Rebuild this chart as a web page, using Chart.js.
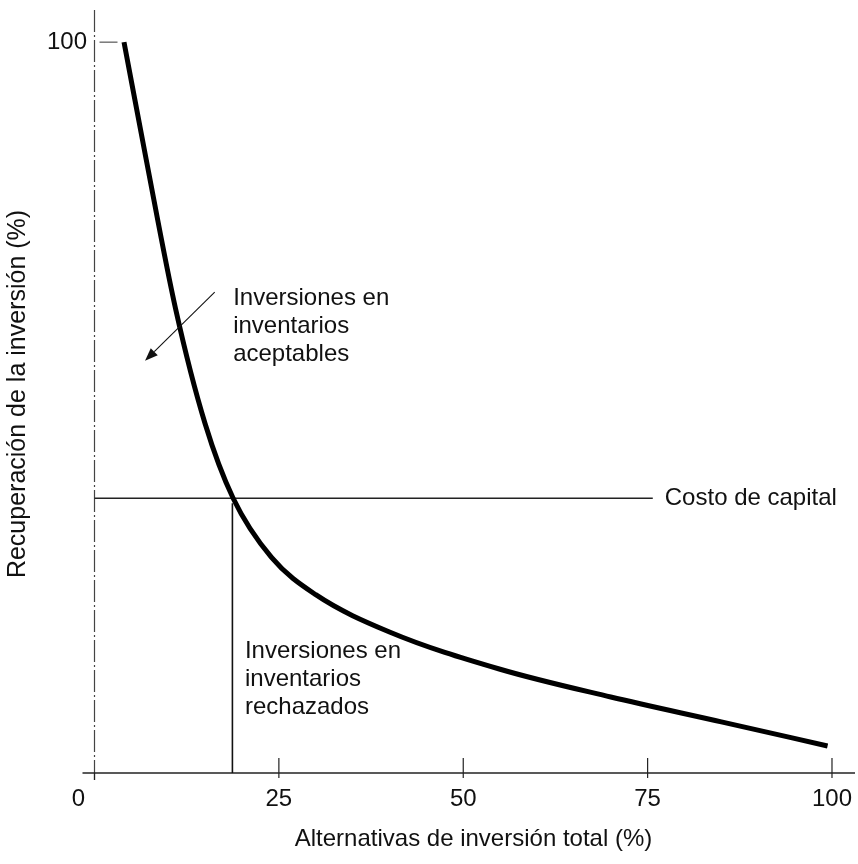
<!DOCTYPE html>
<html><head><meta charset="utf-8">
<style>html,body{margin:0;padding:0;background:#fff;}#wrap{width:858px;height:864px;}</style>
<script src="https://cdn.jsdelivr.net/npm/chart.js@4.4.1/dist/chart.umd.min.js"></script>
</head><body><div id="wrap"><canvas id="c" width="858" height="864"></canvas></div>
<script>
// ---- data ----
const curveX = [4.0, 7.0, 11.0, 15.0, 18.8, 24.0, 30.0, 40.0, 55.0, 70.0, 85.0, 99.4];
const curveY = [100, 84.0, 63.5, 47.8, 37.6, 29.5, 24.4, 19.3, 14.2, 10.4, 7.0, 3.7];
const costOfCapital = 37.6;
const cutoffX = 18.7;
const costLineEndX = 75.7;
const xTicks = [0, 25, 50, 75, 100];
const yTicks = [0, 100];
const xTitle = 'Alternativas de inversión total (%)';
const yTitle = 'Recuperación de la inversión (%)';
const costLabel = 'Costo de capital';
const acceptLabel = ['Inversiones en', 'inventarios', 'aceptables'];
const rejectLabel = ['Inversiones en', 'inventarios', 'rechazados'];

const FONT = '"Liberation Sans", Arial, Helvetica, sans-serif';
Chart.defaults.font.family = FONT;
Chart.defaults.color = '#111';

const curve = curveX.map((x, i) => ({x: x, y: curveY[i]}));

const decor = {
  id: 'decor',
  beforeDatasetsDraw(chart) {
    const {ctx, chartArea: a, scales: {x, y}} = chart;
    const x0 = x.getPixelForValue(0), y0 = y.getPixelForValue(0);
    ctx.save();
    // y axis (broken / dashed look)
    ctx.strokeStyle = '#444'; ctx.lineWidth = 1.2;
    ctx.setLineDash([22, 3, 2, 3]);
    ctx.beginPath(); ctx.moveTo(x0, a.top); ctx.lineTo(x0, a.bottom + 2); ctx.stroke();
    ctx.setLineDash([]);
    // x axis
    ctx.strokeStyle = '#222'; ctx.lineWidth = 1.5;
    ctx.beginPath(); ctx.moveTo(x0 - 12, y0); ctx.lineTo(a.right, y0); ctx.stroke();
    // x tick marks
    ctx.lineWidth = 1.2;
    xTicks.forEach(v => {
      const px = x.getPixelForValue(v);
      ctx.beginPath();
      if (v === 0) { ctx.moveTo(px, y0); ctx.lineTo(px, y0 + 7); }
      else { ctx.moveTo(px, y0 - 15); ctx.lineTo(px, y0 + 5); }
      ctx.stroke();
    });
    // y tick at 100
    const y100 = y.getPixelForValue(100);
    ctx.strokeStyle = '#555';
    ctx.beginPath(); ctx.moveTo(x0 + 5, y100); ctx.lineTo(x0 + 23, y100); ctx.stroke();
    ctx.restore();
  },
  afterDatasetsDraw(chart) {
    const {ctx, chartArea: a, scales: {x, y}} = chart;
    ctx.save();
    ctx.fillStyle = '#111';
    ctx.font = '24px ' + FONT;
    ctx.textBaseline = 'middle';
    // origin label "0"
    ctx.textAlign = 'center';
    ctx.fillText('0', x.getPixelForValue(0) - 16, a.bottom + 7 + 14.4);
    ctx.textAlign = 'left';
    // cost of capital label
    ctx.fillText(costLabel, x.getPixelForValue(costLineEndX) + 12, y.getPixelForValue(costOfCapital));
    // accepted
    const ax = x.getPixelForValue(18.8), ay = y.getPixelForValue(65.0);
    acceptLabel.forEach((t, i) => ctx.fillText(t, ax, ay + i * 28));
    // rejected
    const rx = x.getPixelForValue(20.4), ry = y.getPixelForValue(16.6);
    rejectLabel.forEach((t, i) => ctx.fillText(t, rx, ry + i * 28));
    // arrow
    const sx = x.getPixelForValue(16.3), sy = y.getPixelForValue(65.8);
    const tx = x.getPixelForValue(6.85), ty = y.getPixelForValue(56.4);
    const ang = Math.atan2(ty - sy, tx - sx);
    const L = 13, W = 5;
    const bx = tx - L * Math.cos(ang), by = ty - L * Math.sin(ang);
    ctx.strokeStyle = '#111'; ctx.lineWidth = 1.1;
    ctx.beginPath(); ctx.moveTo(sx, sy); ctx.lineTo(bx, by); ctx.stroke();
    ctx.beginPath();
    ctx.moveTo(tx, ty);
    ctx.lineTo(bx + W * Math.sin(ang), by - W * Math.cos(ang));
    ctx.lineTo(bx - W * Math.sin(ang), by + W * Math.cos(ang));
    ctx.closePath(); ctx.fill();
    ctx.restore();
  }
};

new Chart(document.getElementById('c'), {
  type: 'line',
  data: {
    datasets: [
      {data: curve, borderColor: '#000', borderWidth: 5, pointRadius: 0, cubicInterpolationMode: 'monotone', fill: false, borderCapStyle: 'butt'},
      {data: [{x: 0, y: costOfCapital}, {x: costLineEndX, y: costOfCapital}], borderColor: '#222', borderWidth: 1.4, pointRadius: 0},
      {data: [{x: cutoffX, y: 0}, {x: cutoffX, y: costOfCapital - 0.7}], borderColor: '#111', borderWidth: 1.6, pointRadius: 0}
    ]
  },
  options: {
    responsive: false,
    animation: false,
    devicePixelRatio: 1,
    layout: {padding: {left: 0, right: 3, top: 10, bottom: 0}},
    plugins: {legend: {display: false}, tooltip: {enabled: false}},
    scales: {
      x: {
        type: 'linear', min: -0.339, max: 103.12,
        grid: {display: false, drawTicks: false}, border: {display: false},
        afterBuildTicks: s => { s.ticks = xTicks.map(v => ({value: v})); },
        afterFit: s => { s.height = 86; s.paddingLeft = 0; s.paddingRight = 0; },
        ticks: {autoSkip: false, maxRotation: 0, padding: 7, font: {size: 24}, color: '#111',
                callback: v => (v === 0 ? '' : String(v))},
        title: {display: true, text: xTitle, font: {size: 24}, color: '#111', padding: {top: 0, bottom: 10}}
      },
      y: {
        type: 'linear', min: -0.68, max: 104.4,
        grid: {display: false, drawTicks: false}, border: {display: false},
        afterBuildTicks: s => { s.ticks = yTicks.map(v => ({value: v})); },
        afterFit: s => { s.width = 92; s.paddingTop = 0; s.paddingBottom = 0; },
        ticks: {padding: 5, font: {size: 24}, color: '#111',
                callback: v => (v === 100 ? '100' : '')},
        title: {display: true, text: yTitle, font: {size: 25}, color: '#111', padding: {top: 3, bottom: 0}}
      }
    }
  },
  plugins: [decor]
});
</script></body></html>
